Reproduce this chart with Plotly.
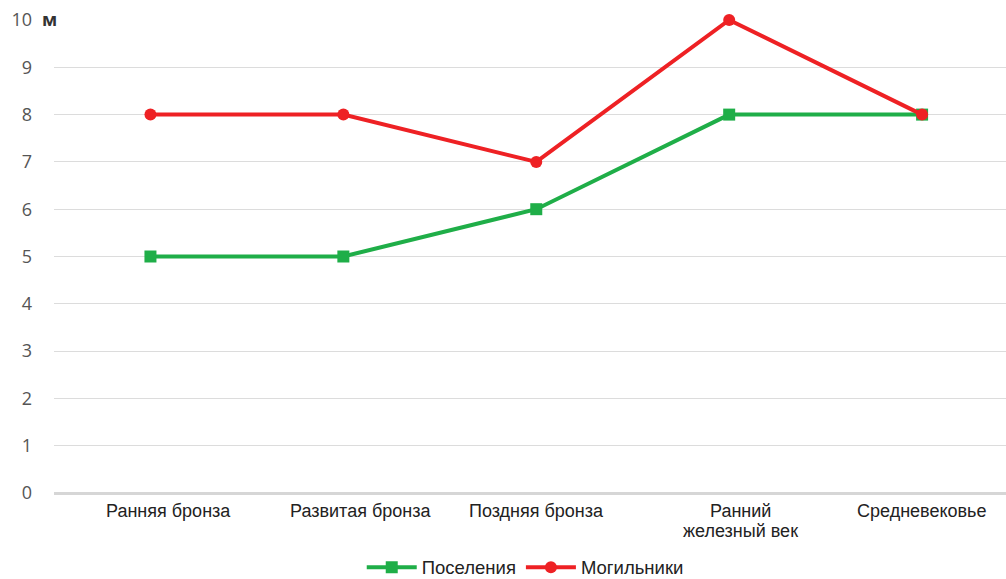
import plotly.graph_objects as go

# Периоды и количество памятников
periods = ["Ранняя бронза", "Развитая бронза", "Поздняя бронза",
           "Ранний<br>железный век", "Средневековье"]
settlements = [5, 5, 6, 8, 8]
burials = [8, 8, 7, 10, 8]
y_ticks = [0, 1, 2, 3, 4, 5, 6, 7, 8, 9, 10]

# Сдвиг подписей периодов по горизонтали, пикс.
label_nudge = [18, 17, 0, 11, 0]

GREEN = "#1fae48"
RED = "#ee2124"

xs = list(range(len(periods)))

fig = go.Figure()
fig.add_trace(go.Scatter(
    x=xs, y=settlements, name="Поселения",
    mode="lines+markers",
    line=dict(color=GREEN, width=4),
    marker=dict(symbol="square", size=12, color=GREEN),
    cliponaxis=False,
))
fig.add_trace(go.Scatter(
    x=xs, y=burials, name="Могильники",
    mode="lines+markers",
    line=dict(color=RED, width=4),
    marker=dict(symbol="circle", size=12, color=RED),
    cliponaxis=False,
))

fig.update_layout(
    width=1006, height=579,
    margin=dict(l=54, r=0, t=20, b=86, autoexpand=False),
    paper_bgcolor="white", plot_bgcolor="white",
    font=dict(family="Liberation Sans, Arial, sans-serif", color="#222"),
    showlegend=True,
    legend=dict(orientation="h", x=0.495, xanchor="center", y=-0.158,
                yanchor="middle", font=dict(size=18.5, color="#222"),
                itemwidth=50, tracegroupgap=0),
    xaxis=dict(
        range=[-0.5, 4.435],
        tickmode="array", tickvals=xs, ticktext=[""] * len(xs),
        showgrid=False, zeroline=False, showline=False, ticks="",
        automargin=False,
    ),
    yaxis=dict(
        range=[0, 10],
        tickmode="array", tickvals=y_ticks,
        ticktext=[str(v) for v in y_ticks],
        showgrid=True, gridcolor="#dcdcdc", gridwidth=1.3,
        zeroline=True, zerolinecolor="#d6d6d6", zerolinewidth=2.5,
        showline=False, ticks="", ticklabelstandoff=21, automargin=False,
        tickfont=dict(family="Open Sans, sans-serif", size=18, color="#555"),
    ),
)

# Подписи периодов под осью (строки многострочных подписей идут плотно)
for x, label, dx in zip(xs, periods, label_nudge):
    for i, line in enumerate(label.split("<br>")):
        fig.add_annotation(
            x=x, y=0, xref="x", yref="paper", text=line, showarrow=False,
            xanchor="center", yanchor="top", xshift=dx, yshift=-6 - 20 * i,
            font=dict(size=18, color="#222"),
        )

# Единица измерения рядом с верхней отметкой шкалы
fig.add_annotation(
    x=0, y=10, xref="paper", yref="y", text="<b>м</b>", showarrow=False,
    xanchor="right", yanchor="middle", xshift=5, yshift=1,
    bgcolor="white",
    font=dict(family="Open Sans, sans-serif", size=18, color="#333"),
)

fig.write_html("out.html")
